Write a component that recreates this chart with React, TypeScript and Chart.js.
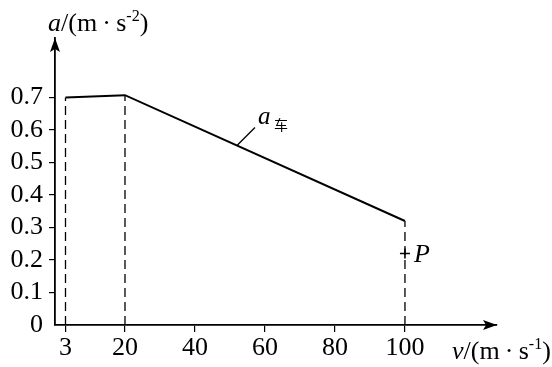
import React, { useEffect, useRef } from "react";
import { Chart, registerables } from "chart.js";

Chart.register(...registerables);

// ---- data ----
const speedV = [3, 20, 100];            // v (m/s) at the corners of the a_car curve
const accelA = [0.7, 0.707, 0.32];       // a (m/s^2) at those speeds
const pointPV = [100];
const pointPA = [0.22];
const xTickValues = [3, 20, 40, 60, 80, 100];
const yTickValues = [0, 0.1, 0.2, 0.3, 0.4, 0.5, 0.6, 0.7];
const xRange = [0, 126.3];
const yRange = [0, 0.883];
const curveLabelV = 52;                  // where the leader of "a车" touches the curve
const yTitle = "a/(m·s⁻²)";
const xTitle = "v/(m·s⁻¹)";
const curveLabel = "a车";
const pointLabel = "P";

const SERIF = '"Liberation Serif", "Times New Roman", serif';

type Seg = { t: string; italic?: boolean; sup?: boolean; sub?: boolean };

function drawRich(ctx: CanvasRenderingContext2D, segs: Seg[], x: number, y: number, size: number) {
  let cx = x;
  for (const s of segs) {
    const fs = s.sup ? size * 0.62 : s.sub ? size * 0.58 : size;
    ctx.font = `${s.italic ? "italic " : ""}${fs}px ${SERIF}`;
    const dy = s.sup ? -size * 0.4 : s.sub ? size * 0.22 : 0;
    ctx.fillText(s.t, cx, y + dy);
    cx += ctx.measureText(s.t).width;
  }
}

function unitSegs(varName: string, exp: string): Seg[] {
  return [
    { t: varName, italic: true },
    { t: "/(m\u2009·\u2009s" },
    { t: exp, sup: true },
    { t: ")" },
  ];
}

const annotatePlugin = {
  id: "annotate",
  afterDraw(chart: any) {
    const { ctx, chartArea, scales } = chart;
    const xs = scales.x;
    const ys = scales.y;
    ctx.save();
    ctx.fillStyle = "#000";
    ctx.strokeStyle = "#000";
    ctx.textBaseline = "alphabetic";
    ctx.textAlign = "left";

    // arrow heads
    const ox = chartArea.left;
    const oy = chartArea.bottom;
    const ty = chartArea.top;
    ctx.beginPath();
    ctx.moveTo(ox, ty);
    ctx.lineTo(ox - 5, ty + 14);
    ctx.lineTo(ox, ty + 11);
    ctx.lineTo(ox + 5, ty + 14);
    ctx.closePath();
    ctx.fill();
    const rx = chartArea.right;
    ctx.beginPath();
    ctx.moveTo(rx, oy);
    ctx.lineTo(rx - 14, oy - 5);
    ctx.lineTo(rx - 11, oy);
    ctx.lineTo(rx - 14, oy + 5);
    ctx.closePath();
    ctx.fill();

    // axis titles
    drawRich(ctx, unitSegs(yTitle.split("/")[0], "-2"), ox - 7, ty - 7, 26);
    drawRich(ctx, unitSegs(xTitle.split("/")[0], "-1"), rx - 45, oy + 34, 26);

    // leader + curve label
    let aAt = accelA[accelA.length - 1];
    for (let i = 0; i < speedV.length - 1; i++) {
      if (curveLabelV >= speedV[i] && curveLabelV <= speedV[i + 1]) {
        const f = (curveLabelV - speedV[i]) / (speedV[i + 1] - speedV[i]);
        aAt = accelA[i] + f * (accelA[i + 1] - accelA[i]);
      }
    }
    const lx = xs.getPixelForValue(curveLabelV);
    const ly = ys.getPixelForValue(aAt);
    const ex = lx + 18;
    const ey = ly - 18;
    ctx.lineWidth = 1.3;
    ctx.beginPath();
    ctx.moveTo(lx, ly);
    ctx.lineTo(ex, ey);
    ctx.stroke();
    drawRich(ctx, [{ t: curveLabel[0], italic: true }], ex + 3, ey - 4, 25);
    ctx.font = `14px "Noto Sans CJK SC", ${SERIF}`;
    ctx.fillText(curveLabel.slice(1), ex + 19, ey + 2);

    // P label
    const px = xs.getPixelForValue(pointPV[0]);
    const py = ys.getPixelForValue(pointPA[0]);
    drawRich(ctx, [{ t: pointLabel, italic: true }], px + 9, py + 9, 26);

    ctx.restore();
  },
};

export default function App() {
  const ref = useRef<HTMLCanvasElement | null>(null);

  useEffect(() => {
    if (!ref.current) return;
    const mainLine = speedV.map((v, i) => ({ x: v, y: accelA[i] }));
    const dashed = speedV.map((v, i) => ({
      type: "scatter" as const,
      data: [
        { x: v, y: 0 },
        { x: v, y: accelA[i] },
      ],
      showLine: true,
      borderColor: "#000",
      borderWidth: 1.3,
      borderDash: [9, 5],
      pointRadius: 0,
    }));

    const chart = new Chart(ref.current, {
      type: "scatter",
      data: {
        datasets: [
          {
            data: mainLine,
            showLine: true,
            borderColor: "#000",
            borderWidth: 2,
            pointRadius: 0,
          },
          ...dashed,
          {
            data: pointPV.map((v, i) => ({ x: v, y: pointPA[i] })),
            pointStyle: "cross",
            pointRadius: 5,
            borderColor: "#000",
            borderWidth: 1.6,
          },
        ] as any,
      },
      options: {
        animation: false,
        responsive: false,
        events: [],
        layout: { padding: { top: 38, right: 55, left: 0, bottom: 0 } },
        plugins: { legend: { display: false }, tooltip: { enabled: false } },
        scales: {
          x: {
            type: "linear",
            position: "bottom",
            min: xRange[0],
            max: xRange[1],
            afterBuildTicks: (s: any) => {
              s.ticks = xTickValues.map((v) => ({ value: v }));
            },
            afterFit: (s: any) => {
              s.height = 42;
            },
            grid: {
              display: true,
              drawOnChartArea: false,
              drawTicks: true,
              tickLength: 7,
              color: "#000",
              lineWidth: 1.2,
            },
            border: { display: true, color: "#000", width: 1.8 },
            ticks: {
              autoSkip: false,
              maxRotation: 0,
              padding: 1,
              color: "#000",
              font: { family: SERIF, size: 26 },
              callback: (v: any) => String(v),
            },
          },
          y: {
            type: "linear",
            position: "left",
            min: yRange[0],
            max: yRange[1],
            afterBuildTicks: (s: any) => {
              s.ticks = yTickValues.map((v) => ({ value: v }));
            },
            afterFit: (s: any) => {
              s.width = 55;
            },
            grid: {
              display: true,
              drawOnChartArea: false,
              drawTicks: true,
              tickLength: 6,
              color: (c: any) => (c.tick && c.tick.value === 0 ? "rgba(0,0,0,0)" : "#000"),
              lineWidth: 1.2,
            },
            border: { display: true, color: "#000", width: 1.8 },
            ticks: {
              autoSkip: false,
              padding: 6,
              color: "#000",
              font: { family: SERIF, size: 26 },
              callback: (v: any) => (Number(v) === 0 ? "0" : Number(v).toFixed(1)),
            },
          },
        },
      },
      plugins: [annotatePlugin],
    });
    return () => chart.destroy();
  }, []);

  return (
    <div style={{ position: "fixed", left: 0, top: 0, width: 552, height: 367, background: "#fff" }}>
      <canvas ref={ref} width={552} height={367} style={{ display: "block" }} />
    </div>
  );
}
